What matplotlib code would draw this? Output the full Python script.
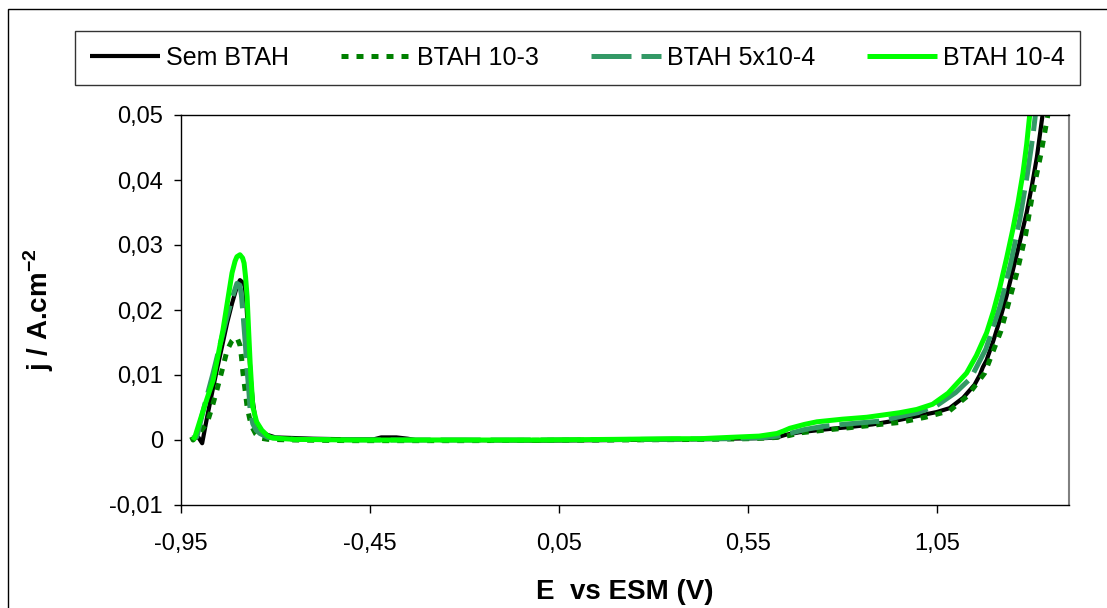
import matplotlib
matplotlib.use('Agg')
import matplotlib.pyplot as plt
from matplotlib.patches import Rectangle
from matplotlib.ticker import FuncFormatter, MultipleLocator, FixedLocator

plt.rcParams['font.family'] = ['Liberation Sans', 'DejaVu Sans']
plt.rcParams['mathtext.fontset'] = 'custom'
plt.rcParams['mathtext.rm'] = 'Liberation Sans'
plt.rcParams['mathtext.bf'] = 'Liberation Sans:bold'

# Sem BTAH (black)
e_sem = [-0.905, -0.894, -0.881, -0.868, -0.855, -0.841, -0.828, -0.815, -0.802, -0.794,
         -0.786, -0.781, -0.777, -0.773, -0.769, -0.765, -0.760, -0.754, -0.745, -0.735,
         -0.722, -0.70, -0.60, -0.50, -0.44, -0.42, -0.38, -0.35, -0.33, -0.2,
         0.0, 0.2, 0.4, 0.5, 0.6, 0.627, 0.65, 0.688, 0.75, 0.82,
         0.88, 0.952, 1.0, 1.05, 1.084, 1.12, 1.15, 1.164, 1.172, 1.182,
         1.2, 1.217, 1.235, 1.251, 1.27, 1.288, 1.302, 1.315, 1.330, 1.34]
j_sem = [0.0005, -0.0005, 0.0035, 0.0072, 0.0108, 0.0145, 0.018, 0.021, 0.0236, 0.0246,
         0.0242, 0.0236, 0.021, 0.0169, 0.013, 0.0092, 0.0060, 0.0035, 0.0018, 0.0012,
         0.0008, 0.0004, 0.0002, 0.0001, 0.0001, 0.0004, 0.0004, 0.0002, 0.0, 0.0,
         -0.0001, 0.0, 0.0001, 0.0002, 0.0003, 0.0004, 0.0008, 0.0012, 0.0016, 0.002,
         0.0024, 0.0031, 0.0037, 0.0043, 0.0049, 0.0065, 0.0085, 0.0100, 0.0112, 0.0123,
         0.0153, 0.0185, 0.0222, 0.026, 0.0305, 0.035, 0.0392, 0.0435, 0.05, 0.054]

# BTAH 10-3 (dotted)
e_1e3 = [-0.922, -0.918, -0.90, -0.881, -0.868, -0.855, -0.841, -0.828, -0.815, -0.807,
         -0.80, -0.794, -0.79, -0.786, -0.78, -0.775, -0.768, -0.762, -0.752, -0.741,
         -0.72, -0.65, -0.5, -0.2, 0.2, 0.45, 0.55, 0.6, 0.627, 0.66,
         0.688, 0.75, 0.82, 0.90, 0.952, 1.02, 1.084, 1.13, 1.177, 1.22,
         1.262, 1.285, 1.304, 1.325, 1.344, 1.36]
j_1e3 = [0.0005, 0.0, 0.0012, 0.0026, 0.0050, 0.0077, 0.0108, 0.0138, 0.0153, 0.0158,
         0.0155, 0.0146, 0.0128, 0.0103, 0.0075, 0.0051, 0.0032, 0.002, 0.0009, 0.0003,
         0.0001, 0.0, -0.0001, -0.0001, 0.0, 0.0001, 0.0002, 0.0003, 0.0004, 0.0007,
         0.0011, 0.0015, 0.0019, 0.0024, 0.0027, 0.0035, 0.0045, 0.0067, 0.0103, 0.0168,
         0.0257, 0.0315, 0.038, 0.0438, 0.05, 0.055]

# BTAH 5x10-4 (dashed)
e_5e4 = [-0.92, -0.908, -0.887, -0.865, -0.846, -0.828, -0.815, -0.802, -0.794, -0.79,
         -0.786, -0.78, -0.775, -0.77, -0.767, -0.76, -0.751, -0.741, -0.72, -0.65,
         -0.4, 0.0, 0.3, 0.5, 0.6, 0.627, 0.66, 0.7, 0.75, 0.82,
         0.9, 0.952, 1.0, 1.05, 1.1, 1.14, 1.18, 1.217, 1.245, 1.27,
         1.29, 1.305, 1.315]
j_5e4 = [0.0003, 0.0005, 0.0055, 0.0103, 0.0148, 0.019, 0.0218, 0.0241, 0.0238, 0.0222,
         0.0195, 0.015, 0.0108, 0.0072, 0.0046, 0.0025, 0.0015, 0.001, 0.0004, 0.0001,
         0.0, 0.0, 0.0001, 0.0002, 0.0004, 0.0006, 0.001, 0.0016, 0.0021, 0.0025,
         0.0029, 0.0036, 0.0042, 0.0053, 0.0073, 0.0095, 0.014, 0.0205, 0.027, 0.034,
         0.041, 0.047, 0.052]

# BTAH 10-4 (light green)
e_1e4 = [-0.918, -0.913, -0.89, -0.865, -0.852, -0.839, -0.827, -0.815, -0.807, -0.802,
         -0.794, -0.787, -0.783, -0.779, -0.775, -0.771, -0.767, -0.763, -0.76, -0.75,
         -0.736, -0.72, -0.707, -0.65, -0.5, -0.3, 0.0, 0.2, 0.35, 0.423,
         0.5, 0.58, 0.627, 0.645, 0.661, 0.70, 0.733, 0.80, 0.865, 0.952,
         0.997, 1.039, 1.08, 1.129, 1.155, 1.182, 1.20, 1.217, 1.235, 1.251,
         1.265, 1.278, 1.288, 1.296, 1.305]
j_1e4 = [0.0, 0.0005, 0.0048, 0.0092, 0.013, 0.0169, 0.0213, 0.0257, 0.0275, 0.0282,
         0.0285, 0.0280, 0.0272, 0.0250, 0.022, 0.0168, 0.0118, 0.0080, 0.0051, 0.0028,
         0.0015, 0.0006, 0.0003, 0.0001, 0.0, 0.0, 0.0, 0.0001, 0.0002, 0.0002,
         0.0004, 0.0006, 0.001, 0.0014, 0.0018, 0.0024, 0.0028, 0.0032, 0.0035, 0.0042,
         0.0047, 0.0055, 0.0072, 0.0103, 0.013, 0.0165, 0.0198, 0.0235, 0.028, 0.0323,
         0.0365, 0.041, 0.0455, 0.05, 0.055]

labels = ['Sem BTAH', 'BTAH 10-3', 'BTAH 5x10-4', 'BTAH 10-4']
x_ticks = [-0.95, -0.45, 0.05, 0.55, 1.05]

fig = plt.figure(figsize=(11.07, 6.08), dpi=100)
ax = fig.add_axes([181 / 1107, 103 / 608, 888 / 1107, 390 / 608])

ax.plot(e_sem, j_sem, color='black', lw=3.0, label=labels[0], solid_capstyle='butt')
ax.plot(e_1e3, j_1e3, color='#008000', lw=3.6, linestyle=(0, (1.4, 1.6)),
        dash_capstyle='butt', label=labels[1])
ax.plot(e_5e4, j_5e4, color='#339966', lw=3.6, linestyle=(0, (8, 2)),
        dash_capstyle='butt', label=labels[2])
ax.plot(e_1e4, j_1e4, color='#00ff00', lw=3.6, label=labels[3], solid_capstyle='butt')

ax.set_xlim(-0.95, 1.40)
ax.set_ylim(-0.01, 0.05)
ax.xaxis.set_major_locator(FixedLocator(x_ticks))
ax.yaxis.set_major_locator(MultipleLocator(0.01))


def comma_fmt(v, pos):
    if abs(v) < 1e-9:
        return '0'
    return f'{v:.2f}'.replace('.', ',')


ax.xaxis.set_major_formatter(FuncFormatter(comma_fmt))
ax.yaxis.set_major_formatter(FuncFormatter(comma_fmt))
ax.tick_params(axis='x', direction='out', length=5.5, width=1, labelsize=17, pad=15)
ax.tick_params(axis='y', direction='out', length=5, width=1, labelsize=17, pad=8)

for side in ['left', 'bottom', 'top']:
    ax.spines[side].set_color('black')
    ax.spines[side].set_linewidth(1)
ax.spines['right'].set_color('#808080')
ax.spines['right'].set_linewidth(1.5)

ax.set_xlabel('E  vs ESM (V)', fontsize=20, fontweight='bold', va='top')
ax.xaxis.set_label_coords(0.5, -0.19)
ax.set_ylabel(r'j / A.cm$^{\mathbf{-2}}$', fontsize=20, fontweight='bold')
ax.yaxis.set_label_coords(-0.141, 0.5)

leg = fig.legend(loc='center', ncol=4, mode='expand',
                 bbox_to_anchor=(75 / 1107, 1 - 87 / 608, 1005 / 1107, 58 / 608),
                 bbox_transform=fig.transFigure, fontsize=18, frameon=True,
                 fancybox=False, handlelength=2.8, handletextpad=0.25,
                 borderpad=0.6, borderaxespad=0)
leg.get_frame().set_edgecolor('black')
leg.get_frame().set_linewidth(1)

# outer chart border
fig.patches.append(Rectangle((7.5 / 1107, -0.1), 2.0, 1.1 - 9.5 / 608, fill=False,
                             edgecolor='black', lw=1, transform=fig.transFigure))

fig.savefig('out.png', dpi=100)
